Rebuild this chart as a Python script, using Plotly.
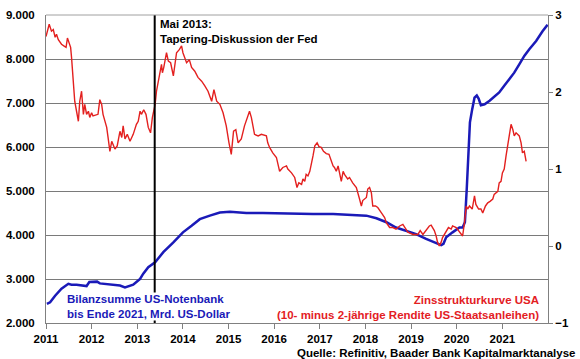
import datetime as dt
import plotly.graph_objects as go

# Zinsstrukturkurve USA (10y - 2y), Prozentpunkte, rechte Achse
red_t = [2011.00, 2011.07, 2011.12, 2011.16, 2011.20, 2011.23, 2011.27, 2011.31, 2011.34, 2011.39,
         2011.44, 2011.47, 2011.51, 2011.54, 2011.56, 2011.60, 2011.63, 2011.67, 2011.71, 2011.74,
         2011.78, 2011.82, 2011.85, 2011.89, 2011.93, 2011.96, 2012.00, 2012.03, 2012.11, 2012.14,
         2012.18, 2012.22, 2012.25, 2012.29, 2012.33, 2012.36, 2012.40, 2012.44, 2012.51, 2012.56,
         2012.62, 2012.66, 2012.69, 2012.73, 2012.78, 2012.84, 2012.91, 2012.98, 2013.02, 2013.06,
         2013.09, 2013.14, 2013.19, 2013.24, 2013.29, 2013.33, 2013.39, 2013.42, 2013.49, 2013.53,
         2013.55, 2013.58, 2013.64, 2013.68, 2013.73, 2013.79, 2013.86, 2013.92, 2013.97, 2014.00,
         2014.08, 2014.14, 2014.19, 2014.26, 2014.33, 2014.41, 2014.48, 2014.55, 2014.63, 2014.68,
         2014.74, 2014.81, 2014.88, 2014.95, 2015.01, 2015.06, 2015.11, 2015.16, 2015.21, 2015.28,
         2015.35, 2015.39, 2015.43, 2015.46, 2015.50, 2015.54, 2015.57, 2015.65, 2015.72, 2015.83,
         2015.86, 2015.90, 2015.97, 2016.05, 2016.08, 2016.12, 2016.19, 2016.27, 2016.30, 2016.38,
         2016.45, 2016.50, 2016.54, 2016.60, 2016.63, 2016.67, 2016.70, 2016.74, 2016.78, 2016.81,
         2016.85, 2016.89, 2016.94, 2016.98, 2017.03, 2017.08, 2017.14, 2017.20, 2017.25, 2017.29,
         2017.32, 2017.36, 2017.40, 2017.43, 2017.47, 2017.51, 2017.54, 2017.61, 2017.65, 2017.72,
         2017.80, 2017.87, 2017.91, 2017.94, 2018.02, 2018.05, 2018.09, 2018.13, 2018.16, 2018.22,
         2018.27, 2018.35, 2018.42, 2018.46, 2018.53, 2018.60, 2018.67, 2018.75, 2018.82, 2018.93,
         2019.04, 2019.15, 2019.20, 2019.26, 2019.33, 2019.40, 2019.44, 2019.47, 2019.51, 2019.55,
         2019.58, 2019.62, 2019.66, 2019.69, 2019.73, 2019.77, 2019.82, 2019.88, 2019.91, 2019.99,
         2020.04, 2020.10, 2020.13, 2020.17, 2020.21, 2020.24, 2020.28, 2020.34, 2020.39, 2020.42,
         2020.48, 2020.53, 2020.57, 2020.63, 2020.68, 2020.73, 2020.79, 2020.82, 2020.90, 2020.93,
         2020.97, 2021.00, 2021.04, 2021.08, 2021.12, 2021.15, 2021.19, 2021.23, 2021.26, 2021.30,
         2021.33, 2021.37, 2021.41, 2021.44, 2021.48, 2021.52]
red_v = [2.72, 2.88, 2.79, 2.81, 2.71, 2.75, 2.68, 2.64, 2.62, 2.60,
         2.58, 2.70, 2.64, 2.58, 2.45, 2.14, 1.88, 1.75, 1.62, 1.88,
         2.01, 1.71, 1.84, 1.71, 1.75, 1.67, 1.73, 1.69, 1.71, 1.71,
         1.90, 1.84, 1.71, 1.64, 1.54, 1.41, 1.23, 1.36, 1.26, 1.30,
         1.49, 1.41, 1.56, 1.39, 1.45, 1.36, 1.45, 1.58, 1.62, 1.75,
         1.71, 1.77, 1.71, 1.54, 1.47, 1.67, 1.84, 2.01, 2.27, 2.36,
         2.25, 2.32, 2.51, 2.40, 2.38, 2.21, 2.51, 2.55, 2.60, 2.51,
         2.38, 2.42, 2.32, 2.27, 2.19, 2.14, 2.08, 2.01, 1.88, 2.03,
         1.88, 1.84, 1.73, 1.56, 1.34, 1.19, 1.49, 1.51, 1.34, 1.39,
         1.56, 1.64, 1.69, 1.75, 1.67, 1.51, 1.45, 1.43, 1.45, 1.43,
         1.34, 1.28, 1.21, 1.15, 1.08, 0.97, 1.02, 1.04, 1.00, 0.95,
         0.89, 0.76, 0.82, 0.80, 0.87, 0.84, 0.93, 0.91, 0.97, 1.04,
         1.17, 1.30, 1.34, 1.29, 1.28, 1.23, 1.20, 1.19, 1.10, 1.04,
         1.02, 0.97, 1.04, 0.93, 0.84, 0.97, 0.93, 0.87, 0.89, 0.82,
         0.76, 0.61, 0.52, 0.59, 0.63, 0.74, 0.76, 0.69, 0.52, 0.52,
         0.50, 0.43, 0.37, 0.30, 0.24, 0.24, 0.22, 0.26, 0.28, 0.18,
         0.15, 0.15, 0.20, 0.15, 0.20, 0.26, 0.27, 0.24, 0.20, 0.13,
         0.05, 0.00, 0.05, 0.11, 0.15, 0.18, 0.24, 0.22, 0.26, 0.24,
         0.20, 0.15, 0.13, 0.30, 0.52, 0.48, 0.52, 0.48, 0.65, 0.54,
         0.48, 0.48, 0.43, 0.52, 0.56, 0.58, 0.61, 0.67, 0.71, 0.82,
         0.84, 0.95, 1.00, 1.17, 1.34, 1.47, 1.58, 1.51, 1.43, 1.47,
         1.45, 1.43, 1.34, 1.21, 1.23, 1.10]

# Bilanzsumme US-Notenbank, Mrd. US-Dollar, linke Achse
blue_t = [2011.02, 2011.09, 2011.20, 2011.34, 2011.49, 2011.56, 2011.67, 2011.82, 2011.89, 2011.95,
          2012.03, 2012.12, 2012.18, 2012.33, 2012.47, 2012.62, 2012.73, 2012.80, 2012.91, 2012.98,
          2013.06, 2013.13, 2013.24, 2013.39, 2013.57, 2013.79, 2014.00, 2014.19, 2014.37, 2014.59,
          2014.81, 2015.03, 2015.39, 2015.75, 2016.12, 2016.49, 2016.85, 2017.29, 2017.65, 2018.02,
          2018.24, 2018.46, 2018.67, 2018.89, 2019.11, 2019.33, 2019.55, 2019.66, 2019.71, 2019.77,
          2019.91, 2020.06, 2020.13, 2020.18, 2020.22, 2020.26, 2020.29, 2020.34, 2020.39, 2020.44,
          2020.48, 2020.53, 2020.61, 2020.72, 2020.83, 2020.93, 2021.04, 2021.15, 2021.26, 2021.37,
          2021.48, 2021.59, 2021.74, 2021.88, 2021.99]
blue_v = [2435, 2470, 2620, 2780, 2890, 2870, 2870, 2850, 2840, 2930,
          2930, 2940, 2900, 2880, 2870, 2850, 2810, 2840, 2870, 2930,
          3000, 3120, 3270, 3380, 3610, 3830, 4060, 4210, 4360, 4440,
          4510, 4530, 4500, 4500, 4490, 4490, 4480, 4480, 4460, 4440,
          4380, 4290, 4170, 4100, 4020, 3910, 3820, 3770, 3800, 3950,
          4060, 4170, 4170, 4290, 5040, 5950, 6560, 6860, 7120, 7170,
          7100, 6950, 6970, 7050, 7150, 7240, 7390, 7540, 7690, 7880,
          8070, 8220, 8410, 8630, 8780]

left_ticks = [2000, 3000, 4000, 5000, 6000, 7000, 8000, 9000]
left_labels = ["2.000", "3.000", "4.000", "5.000", "6.000", "7.000", "8.000", "9.000"]
right_ticks = [-1, 0, 1, 2, 3]
year_ticks = list(range(2011, 2022))
tapering_date = "2013-05-20"


def to_date(t):
    y = int(t)
    start = dt.datetime(y, 1, 1)
    end = dt.datetime(y + 1, 1, 1)
    return start + (end - start) * (t - y)


RED = "#e3201f"
BLUE = "#1a1ab8"
GRID = "#7a7a7a"
FONT = "Liberation Sans, Arial, sans-serif"
FS = 11.5

fig = go.Figure()
fig.add_trace(go.Scatter(x=[to_date(t) for t in red_t], y=red_v, mode="lines",
                         line=dict(color=RED, width=1.4), yaxis="y2", showlegend=False))
fig.add_trace(go.Scatter(x=[to_date(t) for t in blue_t], y=blue_v, mode="lines",
                         line=dict(color=BLUE, width=2.5), yaxis="y", showlegend=False))

fig.update_layout(
    width=580, height=359,
    margin=dict(l=46, r=32, t=15, b=36, autoexpand=False),
    paper_bgcolor="white", plot_bgcolor="white",
    font=dict(family=FONT, size=FS, color="black", weight="bold"),
    xaxis=dict(type="date", range=["2011-01-01", "2022-01-01"],
               tickvals=[dt.datetime(y, 1, 1) for y in year_ticks],
               ticktext=[str(y) for y in year_ticks],
               showgrid=False, showline=True, linecolor="#808080", linewidth=1,
               ticks="outside", ticklen=5, tickcolor="#808080",
               tickfont=dict(size=FS, weight="bold"), mirror=False, zeroline=False),
    yaxis=dict(range=[2000, 9000], tickvals=left_ticks, ticktext=left_labels,
               showgrid=True, gridcolor=GRID, gridwidth=1,
               showline=True, linecolor="#808080", linewidth=1,
               ticks="", tickfont=dict(size=FS, weight="bold"), zeroline=False,
               ticklabelstandoff=8),
    yaxis2=dict(range=[-1, 3], tickvals=right_ticks, overlaying="y", side="right",
                showgrid=False, showline=True, linecolor="#808080", linewidth=1,
                ticks="outside", ticklen=4, tickcolor="#808080",
                tickfont=dict(size=FS, weight="bold"), zeroline=False),
    shapes=[
        dict(type="line", xref="x", yref="paper", x0=tapering_date, x1=tapering_date,
             y0=0, y1=1, line=dict(color="black", width=2)),
        dict(type="line", xref="paper", yref="paper", x0=0, x1=1, y0=1, y1=1,
             line=dict(color="#a0a0a0", width=1)),
    ],
    annotations=[
        dict(text="Mai 2013:<br>Tapering-Diskussion der Fed", xref="x", yref="paper",
             x=tapering_date, y=0.997, xanchor="left", yanchor="top", xshift=3,
             showarrow=False, align="left", font=dict(size=FS, color="black", weight="bold")),
        dict(text="Bilanzsumme US-Notenbank<br>bis Ende 2021, Mrd. US-Dollar", xref="paper", yref="paper",
             x=0.04, y=0.10, xanchor="left", yanchor="top", showarrow=False, align="left",
             bgcolor="white", borderpad=0,
             font=dict(size=FS, color=BLUE, weight="bold")),
        dict(text="Zinsstrukturkurve USA<br>(10- minus 2-jährige Rendite US-Staatsanleihen)",
             xref="paper", yref="paper", x=0.986, y=0.10, xanchor="right", yanchor="top",
             showarrow=False, align="right", font=dict(size=FS, color=RED, weight="bold")),
        dict(text="Quelle: Refinitiv, Baader Bank Kapitalmarktanalyse", xref="paper", yref="paper",
             x=1.058, y=-0.072, xanchor="right", yanchor="top", showarrow=False,
             font=dict(size=FS, color="black", weight="bold")),
    ],
)

fig.write_html("out.html", config={"displayModeBar": False},
               post_script="document.body.style.margin='0';")
